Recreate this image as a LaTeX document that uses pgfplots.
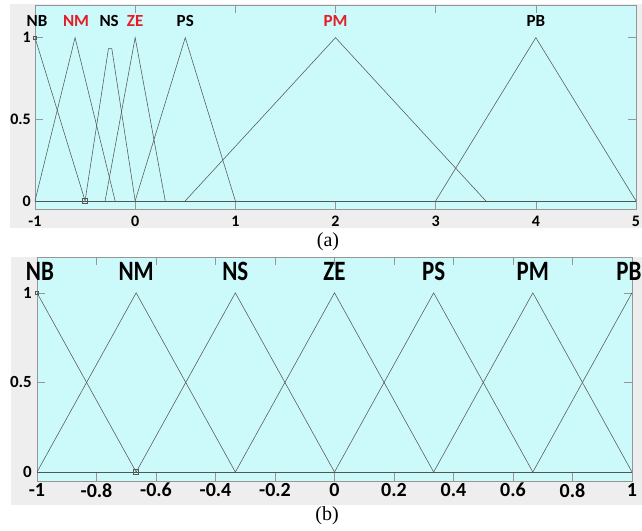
\documentclass[border=0pt]{standalone}
\usepackage{fontspec}
\setmainfont{Carlito}
\newfontfamily\narrowfont[FakeStretch=0.82]{Carlito}
\newfontfamily\capfont{Liberation Serif}
\usepackage{pgfplots}
\pgfplotsset{compat=1.18}
\definecolor{figgray}{RGB}{238,238,238}
\definecolor{cyanbg}{RGB}{204,250,250}
\definecolor{mfline}{RGB}{85,85,85}
\definecolor{mfred}{RGB}{228,30,38}
\definecolor{tickgray}{RGB}{150,150,150}
\pgfplotsset{mfaxis/.style={
  scale only axis, ymin=-0.05, ymax=1.2,
  axis background/.style={fill=cyanbg},
  tick align=inside, major tick length=8pt,
  tick style={tickgray, line width=0.5pt},
  axis line style={tickgray, line width=0.5pt},
  clip mode=individual,
  ytick={0,0.5,1}, yticklabels={0,0.5,1},
  every axis plot/.append style={mfline, line width=0.55pt},
}}
\begin{document}
\begin{tikzpicture}
\useasboundingbox (0,0) rectangle (642pt,-530pt);
\fill[figgray] (10pt,-4pt) rectangle (642pt,-228pt);
\fill[figgray] (11pt,-257pt) rectangle (642pt,-505pt);
\node[font=\capfont\fontsize{20}{20}\selectfont] at (328pt,-242pt) {(a)};
\node[font=\capfont\fontsize{20}{20}\selectfont] at (327pt,-516pt) {(b)};
% ---------------- (a)
\begin{axis}[mfaxis, at={(35pt,-5pt)}, anchor=north west,
  width=601pt, height=204pt, xmin=-1, xmax=5,
  xtick={-1,0,1,2,3,4,5}, xticklabels={-1,0,1,2,3,4,5},
  ticklabel style={font=\bfseries\fontsize{16}{16}\selectfont},
  xticklabel style={inner sep=0pt, yshift=-7pt},
  yticklabel style={inner sep=0pt, xshift=-4pt}]
\addplot[no marks] coordinates {(-1,0) (5,0)};
\addplot[no marks] coordinates {(-1,1) (-0.5,0)};
\addplot[no marks] coordinates {(-1,0) (-0.6,1) (-0.2,0)};
\addplot[no marks] coordinates {(-0.5,0) (-0.2667,0.9333) (-0.2333,0.9333) (0,0)};
\addplot[no marks] coordinates {(-0.3,0) (0,1) (0.3,0)};
\addplot[no marks] coordinates {(0,0) (0.5,1) (1,0)};
\addplot[no marks] coordinates {(0.5,0) (2,1) (3.5,0)};
\addplot[no marks] coordinates {(3,0) (4,1) (5,0)};
\addplot[only marks, mark=square, mark size=1.6pt, mark options={mfline, line width=0.5pt}] coordinates {(-1,1)};
\addplot[only marks, mark=square, mark size=2.5pt, mark options={mfline, line width=0.5pt}] coordinates {(-0.5,0)};
\begin{scope}[every node/.style={font=\bfseries\fontsize{17}{17}\selectfont, inner sep=0pt}]
\node at (axis cs:-0.98,1.10) {NB};
\node[text=mfred] at (axis cs:-0.59,1.10) {NM};
\node at (axis cs:-0.26,1.10) {NS};
\node[text=mfred] at (axis cs:0,1.10) {ZE};
\node at (axis cs:0.5,1.10) {PS};
\node[text=mfred] at (axis cs:2,1.10) {PM};
\node at (axis cs:4,1.10) {PB};
\end{scope}
\end{axis}
% ---------------- (b)
\begin{axis}[mfaxis, at={(37pt,-257pt)}, anchor=north west,
  width=595pt, height=224pt, xmin=-1, xmax=1,
  xtick={-1,-0.8,-0.6,-0.4,-0.2,0,0.2,0.4,0.6,0.8,1},
  xticklabels={-1,-0.8,-0.6,-0.4,-0.2,0,0.2,0.4,0.6,0.8,1},
  xticklabel style={font=\bfseries\fontsize{20}{20}\selectfont, inner sep=0pt, yshift=-2pt},
  yticklabel style={font=\bfseries\fontsize{17}{17}\selectfont, inner sep=0pt, xshift=-5pt}]
\addplot[no marks] coordinates {(-1,0) (1,0)};
\addplot[no marks] coordinates {(-1,1) (-0.6667,0)};
\addplot[no marks] coordinates {(-1,0) (-0.6667,1) (-0.3333,0)};
\addplot[no marks] coordinates {(-0.6667,0) (-0.3333,1) (0,0)};
\addplot[no marks] coordinates {(-0.3333,0) (0,1) (0.3333,0)};
\addplot[no marks] coordinates {(0,0) (0.3333,1) (0.6667,0)};
\addplot[no marks] coordinates {(0.3333,0) (0.6667,1) (1,0)};
\addplot[no marks] coordinates {(0.6667,0) (1,1)};
\addplot[only marks, mark=square, mark size=1.6pt, mark options={mfline, line width=0.5pt}] coordinates {(-1,1)};
\addplot[only marks, mark=square, mark size=2.5pt, mark options={mfline, line width=0.5pt}] coordinates {(-0.6667,0)};
\begin{scope}[every node/.style={font=\narrowfont\bfseries\fontsize{28}{28}\selectfont, inner sep=0pt}]
\node at (axis cs:-0.99,1.12) {NB};
\node at (axis cs:-0.6667,1.12) {NM};
\node at (axis cs:-0.3333,1.12) {NS};
\node at (axis cs:0,1.12) {ZE};
\node at (axis cs:0.3333,1.12) {PS};
\node at (axis cs:0.6667,1.12) {PM};
\node at (axis cs:0.99,1.12) {PB};
\end{scope}
\end{axis}
\end{tikzpicture}
\end{document}
